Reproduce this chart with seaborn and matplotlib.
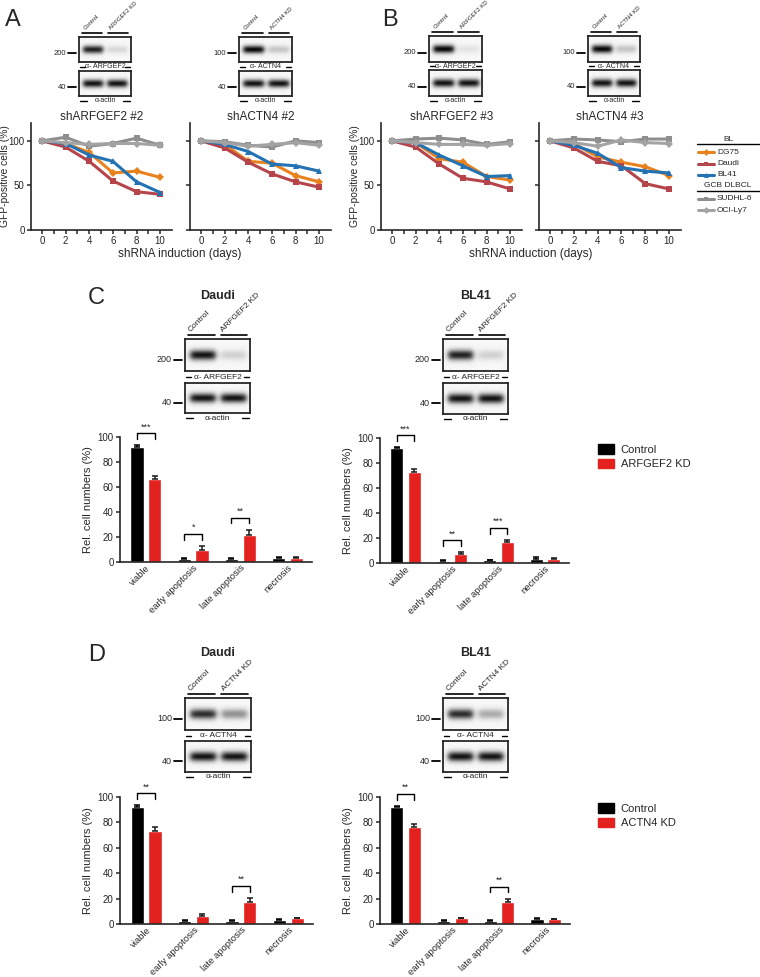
import numpy as np
import pandas as pd
import matplotlib
matplotlib.use('Agg')
from matplotlib import pyplot as plt
from matplotlib.lines import Line2D
from matplotlib.patches import Patch
import seaborn as sns

# ---- data ----
days = [0, 2, 4, 6, 8, 10]
cell_lines = ['DG75', 'Daudi', 'BL41', 'SUDHL-6', 'OCI-Ly7']
line_colors = ['#E8821E', '#B5454B', '#2272B4', '#8E8E8E', '#A3A3A3']
line_markers = ['D', 's', '^', 's', 'D']

# rows follow cell_lines
sharf2 = [[100, 97, 87, 64, 66, 59],
          [100, 93, 77, 55, 43, 40],
          [100, 97, 84, 77, 54, 42],
          [100, 104, 94, 97, 103, 95],
          [100, 98, 96, 97, 97, 95]]
shactn2 = [[100, 96, 77, 75, 61, 54],
           [100, 92, 76, 63, 54, 48],
           [100, 96, 88, 74, 72, 66],
           [100, 99, 95, 93, 100, 98],
           [100, 98, 94, 96, 98, 95]]
sharf3 = [[100, 98, 80, 76, 60, 56],
          [100, 93, 74, 58, 54, 46],
          [100, 98, 84, 72, 60, 61],
          [100, 102, 103, 101, 96, 99],
          [100, 98, 96, 96, 95, 97]]
shactn3 = [[100, 97, 82, 76, 71, 61],
           [100, 92, 77, 72, 52, 46],
           [100, 95, 86, 70, 66, 64],
           [100, 102, 101, 99, 102, 102],
           [100, 98, 94, 101, 98, 97]]

categories = ['viable', 'early apoptosis', 'late apoptosis', 'necrosis']

c_daudi_ctrl = [92, 2.5, 2.5, 3.5]
c_daudi_ctrl_err = [1.5, 0.4, 0.4, 0.5]
c_daudi_kd = [66, 9.5, 22, 3.5]
c_daudi_kd_err = [3, 3.5, 4, 0.6]
c_daudi_sig = ['***', '*', '**', '']

c_bl41_ctrl = [92, 2, 2.5, 3.5]
c_bl41_ctrl_err = [0.6, 0.3, 0.3, 1.5]
c_bl41_kd = [72.5, 7.5, 17, 3.5]
c_bl41_kd_err = [3, 1.3, 1.5, 0.5]
c_bl41_sig = ['***', '**', '***', '']

d_daudi_ctrl = [92, 2.5, 2.5, 3.5]
d_daudi_ctrl_err = [1.5, 0.4, 0.3, 0.7]
d_daudi_kd = [73.5, 6, 17.5, 4.5]
d_daudi_kd_err = [2.5, 1.5, 3, 0.6]
d_daudi_sig = ['**', '', '**', '']

d_bl41_ctrl = [92, 2.5, 2.5, 4]
d_bl41_ctrl_err = [1, 0.3, 0.3, 1]
d_bl41_kd = [76, 4.5, 17, 3.8]
d_bl41_kd_err = [3, 0.5, 3, 0.5]
d_bl41_sig = ['**', '', '**', '']

bar_colors = ['#000000', '#E3211F']

# band intensities for the blots: [control lane, KD lane]
blot_a1 = [0.85, 0.12]
blot_a2 = [0.95, 0.2]
blot_b1 = [0.95, 0.08]
blot_b2 = [0.95, 0.2]
blot_c1 = [0.9, 0.15]
blot_c2 = [0.85, 0.15]
blot_d1 = [0.8, 0.4]
blot_d2 = [0.8, 0.3]
actin_band = [0.9, 0.9]

# ---- style ----
sns.set_style('ticks')
plt.rcParams['font.family'] = ['Liberation Sans', 'DejaVu Sans']
plt.rcParams['axes.linewidth'] = 1.2
plt.rcParams['xtick.major.width'] = 1.1
plt.rcParams['ytick.major.width'] = 1.1
plt.rcParams['xtick.minor.width'] = 1.1

W, H = 760, 977
fig = plt.figure(figsize=(W / 100, H / 100), dpi=100)


def add_ax(x0, y0, x1, y1):
    return fig.add_axes([x0 / W, 1 - y1 / H, (x1 - x0) / W, (y1 - y0) / H])


def ftext(x, y, s, **kw):
    fig.text(x / W, 1 - y / H, s, **kw)


def fline(xs, ys, **kw):
    kw.setdefault('color', 'black')
    kw.setdefault('lw', 1.0)
    fig.add_artist(Line2D([x / W for x in xs], [1 - y / H for y in ys], **kw))


def band_image(inten, center=0.5):
    yy = np.linspace(1, 0, 40)
    xx = np.linspace(0, 1, 120)
    gy = np.exp(-((yy - center) / 0.16) ** 2)
    img = np.full((40, 120), 0.03)
    for i, v in enumerate(inten):
        c = 0.27 + 0.47 * i
        gx = 1 / (1 + np.exp((np.abs(xx - c) - 0.19) / 0.025))
        img += v * np.outer(gy, gx)
    return img


def blot(x0, x1, t1, b1, t2, b2, target, mw, inten, lanes, fs=5, lane_fs=None):
    lane_fs = lane_fs or fs
    for t, b, iv in [(t1, b1, inten), (t2, b2, actin_band)]:
        ax = add_ax(x0, t, x1, b)
        ax.imshow(band_image(iv), cmap='gray_r', vmin=0, vmax=1, aspect='auto',
                  extent=(0, 1, 0, 1), interpolation='bilinear')
        ax.set_xticks([])
        ax.set_yticks([])
        for s in ax.spines.values():
            s.set_linewidth(1.3)
    mid = (x0 + x1) / 2
    ym = (b1 + t2) / 2
    ftext(mid, ym, '\u03b1- ' + target, ha='center', va='center', fontsize=fs)
    fline([x0 + 1, x0 + 6], [ym, ym])
    fline([x1 - 6, x1 - 1], [ym, ym])
    ya = b2 + 5
    ftext(mid, ya, '\u03b1-actin', ha='center', va='center', fontsize=fs)
    fline([x0 + 1, x0 + 8], [ya, ya])
    fline([x1 - 8, x1 - 1], [ya, ya])
    for lab, t, b in [(mw, t1, b1), ('40', t2, b2)]:
        y = t + (b - t) * 0.65
        ftext(x0 - 13, y, lab, ha='right', va='center', fontsize=fs + 0.5)
        fline([x0 - 11, x0 - 3], [y, y], lw=1.3)
    lw_ = (x1 - x0) / 2
    for i, lab in enumerate(lanes):
        lx0 = x0 + i * lw_ + 3
        lx1 = x0 + (i + 1) * lw_ - 3
        fline([lx0, lx1], [t1 - 4, t1 - 4], lw=1.2)
        ftext(lx0 + 4, t1 - 6, lab, rotation=45, ha='left', va='bottom',
              rotation_mode='anchor', fontsize=lane_fs)


def line_panel(ax, vals, title, first):
    df = pd.DataFrame({'day': days * len(cell_lines),
                       'gfp': np.ravel(vals),
                       'line': np.repeat(cell_lines, len(days))})
    sns.lineplot(data=df, x='day', y='gfp', hue='line', style='line',
                 hue_order=cell_lines, style_order=cell_lines,
                 palette=line_colors, markers=line_markers, dashes=False,
                 lw=2.2, ms=4, mew=0, legend=False, ax=ax)
    ax.set_xlim(-0.93, 11)
    ax.set_ylim(0, 120)
    ax.set_xticks(range(0, 11, 2))
    ax.set_xticks(range(1, 11, 2), minor=True)
    ax.set_yticks([0, 50, 100])
    ax.tick_params(labelsize=7, length=3, pad=1.5)
    ax.tick_params(which='minor', length=3)
    ax.set_xlabel('')
    ax.set_ylabel('GFP-positive cells (%)' if first else '', fontsize=7.4)
    ax.yaxis.set_label_coords(-0.152, 0.5)
    if not first:
        ax.tick_params(labelleft=False)
    ax.set_title(title, fontsize=8.5, pad=2)
    sns.despine(ax=ax)


def bar_panel(ax, ctrl, ctrl_err, kd, kd_err, sig, kd_name):
    df = pd.DataFrame({'cat': categories * 2,
                       'val': ctrl + kd,
                       'grp': ['Control'] * 4 + [kd_name] * 4})
    sns.barplot(data=df, x='cat', y='val', hue='grp', order=categories,
                hue_order=['Control', kd_name], palette=bar_colors,
                width=0.75, gap=0.25, errorbar=None, legend=False,
                saturation=1, ax=ax)
    xs_c = [p.get_x() + p.get_width() / 2 for p in ax.containers[0]]
    xs_k = [p.get_x() + p.get_width() / 2 for p in ax.containers[1]]
    ax.errorbar(xs_c, ctrl, yerr=[np.zeros(4), ctrl_err], fmt='none',
                ecolor='black', elinewidth=1.1, capsize=2.5, capthick=1.1)
    ax.errorbar(xs_k, kd, yerr=[np.zeros(4), kd_err], fmt='none',
                ecolor='#1a1a1a', elinewidth=1.1, capsize=2.5, capthick=1.1)
    for i, s in enumerate(sig):
        if not s:
            continue
        top = max(ctrl[i] + ctrl_err[i], kd[i] + kd_err[i]) + 9.5
        ax.plot([xs_c[i], xs_c[i], xs_k[i], xs_k[i]], [top - 4.5, top, top, top - 4.5],
                color='black', lw=1.0, clip_on=False)
        ax.text((xs_c[i] + xs_k[i]) / 2, top + 1.5, s, ha='center', va='bottom',
                fontsize=6.5)
    ax.set_ylim(0, 100)
    ax.set_yticks(range(0, 101, 20))
    ax.set_xlim(-0.55, 3.52)
    ax.set_xlabel('')
    ax.set_ylabel('Rel. cell numbers (%)', fontsize=8, labelpad=3)
    ax.tick_params(axis='y', labelsize=7, length=3, pad=1.5)
    ax.tick_params(axis='x', labelsize=6.8, length=0, pad=1)
    plt.setp(ax.get_xticklabels(), rotation=45, ha='right', rotation_mode='anchor')
    sns.despine(ax=ax)


# ---- panel A / B ----
ftext(5, 20, 'A', fontsize=17, va='center')
ftext(382, 20, 'B', fontsize=17, va='center')

blot(79, 131, 37, 62, 71, 96, 'ARFGEF2', '200', blot_a1, ['Control', 'ARFGEF2 KD'], fs=5, lane_fs=4.3)
blot(239, 292, 37, 62, 71, 96, 'ACTN4', '100', blot_a2, ['Control', 'ACTN4 KD'], fs=5, lane_fs=4.3)
blot(429, 482, 36, 62, 70, 96, 'ARFGEF2', '200', blot_b1, ['Control', 'ARFGEF2 KD'], fs=5, lane_fs=4.3)
blot(588, 640, 36, 62, 70, 96, 'ACTN4', '100', blot_b2, ['Control', 'ACTN4 KD'], fs=5, lane_fs=4.3)

ax = add_ax(31, 123, 172, 230)
line_panel(ax, sharf2, 'shARFGEF2 #2', True)
ax = add_ax(190, 123, 331, 230)
line_panel(ax, shactn2, 'shACTN4 #2', False)
ax = add_ax(381, 123, 522, 230)
line_panel(ax, sharf3, 'shARFGEF2 #3', True)
ax = add_ax(539, 123, 681, 230)
line_panel(ax, shactn3, 'shACTN4 #3', False)

ftext(180, 254, 'shRNA induction (days)', ha='center', va='center', fontsize=8.5)
ftext(531, 254, 'shRNA induction (days)', ha='center', va='center', fontsize=8.5)

# legend for the growth curves, grouped as BL / GCB DLBCL
groups = [('BL', cell_lines[:3], line_colors[:3], line_markers[:3]),
          ('GCB DLBCL', cell_lines[3:], line_colors[3:], line_markers[3:])]
y = 139
for head, names, cols, mks in groups:
    ftext(728, y, head, ha='center', va='center', fontsize=6)
    fline([697, 759], [y + 5, y + 5], lw=1.0)
    y += 13
    for n, c, m in zip(names, cols, mks):
        fig.add_artist(Line2D([698 / W, 706 / W, 714 / W], [1 - y / H] * 3, color=c,
                              lw=2.2, marker=m, ms=3.5, mew=0, markevery=[1]))
        ftext(717, y, n, ha='left', va='center', fontsize=6)
        y += 11.5
    y -= 1

# ---- panel C ----
ftext(88, 298, 'C', fontsize=17, va='center')
ftext(218, 296, 'Daudi', ha='center', va='center', fontsize=9, fontweight='bold')
ftext(476, 296, 'BL41', ha='center', va='center', fontsize=9, fontweight='bold')
blot(185, 250, 339, 371, 383, 413, 'ARFGEF2', '200', blot_c1, ['Control', 'ARFGEF2 KD'], fs=6)
blot(443, 508, 339, 371, 383, 414, 'ARFGEF2', '200', blot_c2, ['Control', 'ARFGEF2 KD'], fs=6)

ax = add_ax(120, 437, 312, 562)
bar_panel(ax, c_daudi_ctrl, c_daudi_ctrl_err, c_daudi_kd, c_daudi_kd_err, c_daudi_sig, 'ARFGEF2 KD')
ax = add_ax(380, 438, 569, 563)
bar_panel(ax, c_bl41_ctrl, c_bl41_ctrl_err, c_bl41_kd, c_bl41_kd_err, c_bl41_sig, 'ARFGEF2 KD')

kw = dict(frameon=False, fontsize=8, handlelength=1.4, handleheight=0.9,
          labelspacing=0.35, handletextpad=0.6, loc='upper left', borderaxespad=0)
fig.legend([Patch(color=c) for c in bar_colors], ['Control', 'ARFGEF2 KD'],
           bbox_to_anchor=(594 / W, 1 - 440 / H), **kw)

# ---- panel D ----
ftext(88, 655, 'D', fontsize=17, va='center')
ftext(218, 653, 'Daudi', ha='center', va='center', fontsize=9, fontweight='bold')
ftext(476, 653, 'BL41', ha='center', va='center', fontsize=9, fontweight='bold')
blot(185, 251, 698, 730, 741, 772, 'ACTN4', '100', blot_d1, ['Control', 'ACTN4 KD'], fs=6)
blot(443, 508, 698, 730, 741, 772, 'ACTN4', '100', blot_d2, ['Control', 'ACTN4 KD'], fs=6)

ax = add_ax(120, 797, 313, 924)
bar_panel(ax, d_daudi_ctrl, d_daudi_ctrl_err, d_daudi_kd, d_daudi_kd_err, d_daudi_sig, 'ACTN4 KD')
ax = add_ax(380, 797, 570, 924)
bar_panel(ax, d_bl41_ctrl, d_bl41_ctrl_err, d_bl41_kd, d_bl41_kd_err, d_bl41_sig, 'ACTN4 KD')

fig.legend([Patch(color=c) for c in bar_colors], ['Control', 'ACTN4 KD'],
           bbox_to_anchor=(594 / W, 1 - 799 / H), **kw)

fig.savefig('out.png', dpi=100)
